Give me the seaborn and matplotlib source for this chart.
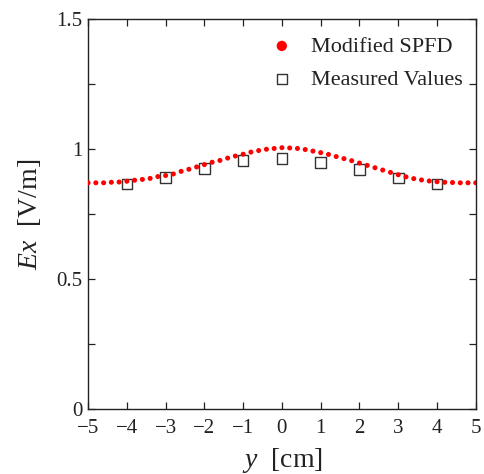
import numpy as np
import pandas as pd
import matplotlib
matplotlib.use("Agg")
import matplotlib.pyplot as plt
import seaborn as sns
from matplotlib.ticker import MultipleLocator, FixedLocator

# Modified SPFD curve (y in cm, Ex in V/m)
spfd_y = [-5.0, -4.8, -4.6, -4.4, -4.2, -4.0, -3.8, -3.6, -3.4, -3.2, -3.0, -2.8, -2.6,
          -2.4, -2.2, -2.0, -1.8, -1.6, -1.4, -1.2, -1.0, -0.8, -0.6, -0.4, -0.2, 0.0,
          0.2, 0.4, 0.6, 0.8, 1.0, 1.2, 1.4, 1.6, 1.8, 2.0, 2.2, 2.4, 2.6, 2.8, 3.0,
          3.2, 3.4, 3.6, 3.8, 4.0, 4.2, 4.4, 4.6, 4.8, 5.0]
spfd_ex = [0.870, 0.870, 0.870, 0.872, 0.873, 0.876, 0.880, 0.883, 0.887, 0.894, 0.898,
           0.904, 0.914, 0.922, 0.931, 0.940, 0.949, 0.956, 0.965, 0.973, 0.980, 0.988,
           0.994, 0.999, 1.002, 1.005,
           1.004, 1.002, 0.998, 0.992, 0.986, 0.979, 0.971, 0.963, 0.955, 0.946, 0.937,
           0.928, 0.919, 0.910, 0.901, 0.893, 0.886, 0.881, 0.877, 0.874, 0.872, 0.871,
           0.870, 0.870, 0.870]

# Measured values
meas_y = [-4, -3, -2, -1, 0, 1, 2, 3, 4]
meas_ex = [0.865, 0.891, 0.926, 0.955, 0.963, 0.949, 0.922, 0.888, 0.865]

xticks = [-5, -4, -3, -2, -1, 0, 1, 2, 3, 4, 5]
yticks = [0, 0.5, 1, 1.5]
ytick_labels = ["0", "0.5", "1", "1.5"]

sns.set_style("ticks")
plt.rcParams["font.family"] = ["Liberation Serif", "DejaVu Serif"]
plt.rcParams["mathtext.fontset"] = "custom"
plt.rcParams["mathtext.rm"] = "Liberation Serif"
plt.rcParams["mathtext.it"] = "Liberation Serif:italic"

TXT = "#222222"

fig = plt.figure(figsize=(4.84, 4.74), dpi=100)
ax = fig.add_axes([0.182, 0.137, 0.801, 0.823])

df_s = pd.DataFrame({"y": spfd_y, "Ex": spfd_ex})
df_m = pd.DataFrame({"y": meas_y, "Ex": meas_ex})

sns.scatterplot(data=df_s, x="y", y="Ex", ax=ax, color="#ff0000", s=13,
                edgecolor="none", marker="o", label="Modified SPFD", zorder=3)
sns.scatterplot(data=df_m, x="y", y="Ex", ax=ax, marker="s", s=58,
                facecolor="none", edgecolor="#333333", linewidth=1.0,
                label="Measured Values", zorder=2)

ax.set_xlim(-5, 5)
ax.set_ylim(0, 1.5)
ax.xaxis.set_major_locator(FixedLocator(xticks))
ax.set_xticklabels(["\u2212" + str(-t) if t < 0 else str(t) for t in xticks])
ax.yaxis.set_major_locator(FixedLocator(yticks))
ax.set_yticklabels(ytick_labels)
ax.yaxis.set_minor_locator(MultipleLocator(0.25))

ax.tick_params(axis="both", which="both", direction="in", top=True, right=True,
               length=5, width=0.9, labelsize=15, colors=TXT)
ax.tick_params(axis="x", which="both", pad=7)
ax.tick_params(axis="y", which="both", pad=4)
for sp in ax.spines.values():
    sp.set_linewidth(1.0)
    sp.set_color(TXT)

ax.set_xlabel(r"$\it{y}$  [cm]", fontsize=20, color=TXT, labelpad=6)
ax.set_ylabel(r"$\it{Ex}$  [V/m]", fontsize=20, color=TXT, labelpad=10)

leg = ax.legend(loc="upper right", frameon=False, fontsize=16, handletextpad=0.3,
                borderaxespad=0.2, labelspacing=0.55, markerscale=1.0,
                bbox_to_anchor=(1.0, 0.99))
handles = leg.legend_handles
handles[0].set_sizes([55])
handles[1].set_sizes([50])
for t in leg.get_texts():
    t.set_color(TXT)

fig.savefig("out.png", dpi=100)
